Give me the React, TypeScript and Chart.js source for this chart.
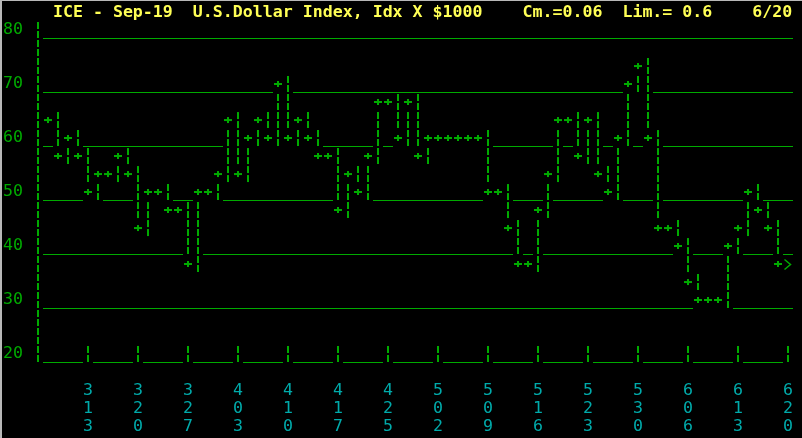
import React, { useEffect, useRef } from 'react';
import { Chart, registerables } from 'chart.js';

Chart.register(...registerables);

// ---- data ----
const TITLE = '     ICE - Sep-19  U.S.Dollar Index, Idx X $1000    Cm.=0.06  Lim.= 0.6    6/20';
const yTicks = [20, 30, 40, 50, 60, 70, 80];
const tickDays = [5, 10, 15, 20, 25, 30, 35, 40, 45, 50, 55, 60, 65, 70, 75];
const tickLabels = ['3/13', '3/20', '3/27', '4/03', '4/10', '4/17', '4/25', '5/02', '5/09', '5/16', '5/23', '5/30', '6/06', '6/13', '6/20'];

// one entry per trading day (day 1 .. 74)
const highs = [
  63.33, 63.33, 60, 60, 56.67, 53.33, 53.33, 56.67, 56.67, 53.33,
  50, 50, 50, 46.67, 46.67, 50, 50, 53.33, 63.33, 63.33,
  60, 63.33, 63.33, 70, 70, 63.33, 63.33, 60, 56.67, 56.67,
  53.33, 53.33, 56.67, 66.67, 66.67, 66.67, 66.67, 66.67, 60, 60,
  60, 60, 60, 60, 60, 50, 50, 43.33, 36.67, 46.67,
  53.33, 63.33, 63.33, 63.33, 63.33, 63.33, 53.33, 60, 70, 73.33,
  73.33, 60, 43.33, 43.33, 40, 33.33, 30, 30, 40, 43.33,
  50, 50, 46.67, 43.33,
];
const lows = [
  63.33, 56.67, 56.67, 56.67, 50, 50, 53.33, 53.33, 53.33, 43.33,
  43.33, 50, 46.67, 46.67, 36.67, 36.67, 50, 50, 53.33, 53.33,
  53.33, 60, 60, 60, 60, 60, 60, 56.67, 56.67, 46.67,
  46.67, 50, 50, 56.67, 66.67, 60, 60, 56.67, 56.67, 60,
  60, 60, 60, 60, 50, 50, 43.33, 36.67, 36.67, 36.67,
  46.67, 53.33, 63.33, 56.67, 56.67, 53.33, 50, 50, 60, 70,
  60, 43.33, 43.33, 40, 33.33, 30, 30, 30, 30, 40,
  43.33, 46.67, 43.33, 36.67,
];
const closes = [
  63.33, 56.67, 60, 56.67, 50, 53.33, 53.33, 56.67, 53.33, 43.33,
  50, 50, 46.67, 46.67, 36.67, 50, 50, 53.33, 63.33, 53.33,
  60, 63.33, 60, 70, 60, 63.33, 60, 56.67, 56.67, 46.67,
  53.33, 50, 56.67, 66.67, 66.67, 60, 66.67, 56.67, 60, 60,
  60, 60, 60, 60, 50, 50, 43.33, 36.67, 36.67, 46.67,
  53.33, 63.33, 63.33, 56.67, 63.33, 53.33, 50, 60, 70, 73.33,
  60, 43.33, 43.33, 40, 33.33, 30, 30, 30, 40, 43.33,
  50, 46.67, 43.33, 36.67,
];
const lastDay = 75;
const lastPrice = 36.67;

// ---- style ----
const GREEN = '#00aa00';
const YELLOW = '#ffff55';
const CYAN = '#00aaaa';
const FONT = "'DejaVu Sans Mono', 'Liberation Mono', monospace";
const FONT_SIZE = 16.6;
const ROW = 10 / 3; // value step of one text row
const PX_PER_UNIT = 5.4;
const Y_MIN = 20 - 9 / PX_PER_UNIT;
const Y_MAX = 80 + 9 / PX_PER_UNIT;
const GRID_SHIFT = 8 / PX_PER_UNIT;

function makeGlyph(draw: (g: CanvasRenderingContext2D) => void) {
  const c = document.createElement('canvas');
  c.width = 10;
  c.height = 18;
  const g = c.getContext('2d') as CanvasRenderingContext2D;
  g.fillStyle = '#000';
  g.fillRect(0, 0, 10, 18);
  g.fillStyle = GREEN;
  g.strokeStyle = GREEN;
  draw(g);
  return c;
}

export default function App() {
  const ref = useRef<HTMLCanvasElement | null>(null);

  useEffect(() => {
    if (!ref.current) return;
    const barGlyph = makeGlyph((g) => {
      g.fillRect(4, 1, 2, 7);
      g.fillRect(4, 10, 2, 7);
    });
    const plusGlyph = makeGlyph((g) => {
      g.fillRect(1, 8, 8, 2);
      g.fillRect(4, 6, 2, 6);
    });
    const arrowGlyph = makeGlyph((g) => {
      g.lineWidth = 1.5;
      g.beginPath();
      g.moveTo(1.5, 4.5);
      g.lineTo(7.5, 9.5);
      g.lineTo(1.5, 14.5);
      g.stroke();
    });

    const barPts: { x: number; y: number }[] = [];
    const plusPts: { x: number; y: number }[] = [];
    highs.forEach((h, i) => {
      const day = i + 1;
      const lo = lows[i];
      const cl = closes[i];
      const n = Math.round((h - lo) / ROW);
      for (let j = 0; j <= n; j++) {
        const v = lo + j * ROW;
        if (Math.abs(v - cl) > 0.5) barPts.push({ x: day, y: v });
      }
      plusPts.push({ x: day, y: cl });
    });

    const axisPts: { x: number; y: number }[] = [];
    const rows = Math.round((yTicks[yTicks.length - 1] - yTicks[0]) / ROW);
    for (let j = 0; j <= rows; j++) axisPts.push({ x: 0, y: yTicks[0] + j * ROW });
    const tickPts = tickDays.map((d) => ({ x: d, y: yTicks[0] }));

    const mk = (data: { x: number; y: number }[], style: HTMLCanvasElement) => ({
      data,
      pointStyle: style,
      pointRadius: 5,
      pointHoverRadius: 5,
      showLine: false,
      clip: false as const,
    });

    const font = { family: FONT, size: FONT_SIZE, lineHeight: '18px' };

    const chart = new Chart(ref.current, {
      type: 'scatter',
      data: {
        datasets: [
          mk(axisPts, barGlyph),
          mk(tickPts, barGlyph),
          mk(barPts, barGlyph),
          mk(plusPts, plusGlyph),
          mk([{ x: lastDay, y: lastPrice }], arrowGlyph),
        ],
      },
      options: {
        animation: false,
        responsive: false,
        events: [],
        layout: { padding: { left: 3, right: 9, top: 0, bottom: 0 } },
        plugins: {
          legend: { display: false },
          tooltip: { enabled: false },
          title: {
            display: true,
            text: TITLE,
            align: 'start',
            color: YELLOW,
            font,
            padding: { top: 4, bottom: -1 },
          },
        },
        scales: {
          x: {
            type: 'linear',
            position: 'bottom',
            min: -0.5,
            max: 75.5,
            grid: { display: true, drawOnChartArea: false, drawTicks: true, tickLength: 19, color: 'rgba(0,0,0,0)' },
            border: { display: false },
            afterBuildTicks: (s: any) => {
              s.ticks = tickDays.map((v) => ({ value: v }));
            },
            ticks: {
              autoSkip: false,
              maxRotation: 0,
              minRotation: 0,
              padding: 0,
              color: CYAN,
              font,
              callback: (_v: any, i: number) => tickLabels[i].replace('/', '').split(''),
            },
            afterFit: (s: any) => {
              s.height = 75;
            },
          },
          y: {
            type: 'linear',
            position: 'left',
            min: Y_MIN,
            max: Y_MAX,
            grid: { display: false },
            border: { display: false },
            afterBuildTicks: (s: any) => {
              s.ticks = yTicks.map((v) => ({ value: v }));
            },
            ticks: {
              crossAlign: 'far',
              padding: 0,
              color: GREEN,
              font,
              callback: (v: any) => String(v),
            },
            afterFit: (s: any) => {
              s.width = 30;
            },
          },
          yGrid: {
            type: 'linear',
            position: 'right',
            min: Y_MIN + GRID_SHIFT,
            max: Y_MAX + GRID_SHIFT,
            grid: { display: true, drawTicks: false, color: GREEN, lineWidth: 1 },
            border: { display: false },
            afterBuildTicks: (s: any) => {
              s.ticks = yTicks.map((v) => ({ value: v }));
            },
            ticks: { display: false },
            afterFit: (s: any) => {
              s.width = 0;
            },
          },
        },
      } as any,
    });
    return () => chart.destroy();
  }, []);

  return (
    <div style={{ position: 'fixed', left: 0, top: 0, width: 802, height: 438, background: '#000', overflow: 'hidden' }}>
      <canvas ref={ref} width={802} height={438} style={{ display: 'block' }} />
      <div style={{ position: 'absolute', left: 0, top: 0, width: 802, height: 1, background: '#b8b8b8' }} />
      <div style={{ position: 'absolute', left: 0, top: 0, width: 2, height: 438, background: '#b8b8b8' }} />
    </div>
  );
}
